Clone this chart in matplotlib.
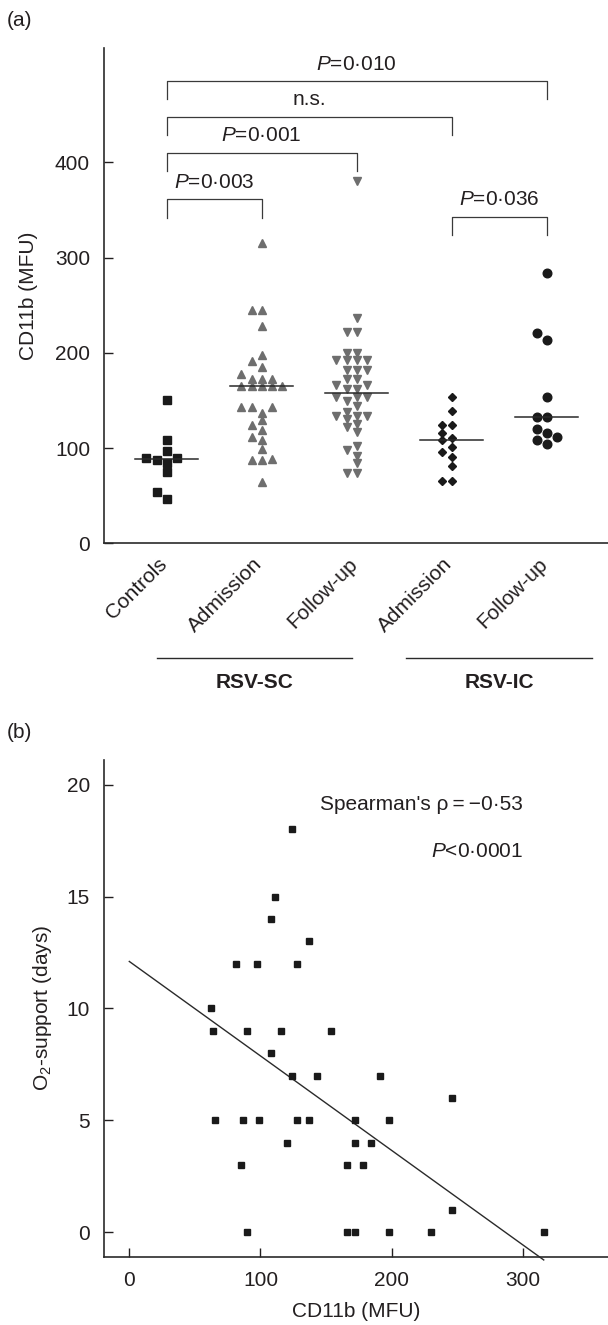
import numpy as np
import matplotlib
matplotlib.use("Agg")
import matplotlib.pyplot as plt
from matplotlib.transforms import ScaledTranslation

plt.rcParams['font.family'] = ['Liberation Sans', 'DejaVu Sans']
plt.rcParams['mathtext.fontset'] = 'custom'
plt.rcParams['mathtext.rm'] = 'Liberation Sans'
plt.rcParams['mathtext.it'] = 'Liberation Sans:italic'
plt.rcParams['mathtext.default'] = 'it'

# ---------------- data: panel (a) ----------------
group_labels = ['Controls', 'Admission', 'Follow-up', 'Admission', 'Follow-up']
controls = [150, 108, 97, 90, 90, 87, 84, 75, 54, 47]
sc_admission = [315, 245, 245, 228, 198, 191, 185, 178, 172, 172, 172,
                165, 165, 165, 165, 165, 143, 143, 143, 137, 129, 124,
                119, 112, 108, 99, 89, 87, 87, 64]
sc_followup = [380, 237, 222, 222, 200, 200, 192, 192, 192, 192, 182, 182,
               182, 173, 173, 166, 166, 162, 162, 154, 154, 154, 149, 144,
               138, 134, 134, 134, 130, 125, 122, 117, 102, 98, 92, 84, 74, 74]
ic_admission = [154, 139, 124, 124, 116, 111, 108, 101, 96, 91, 81, 65, 65]
ic_followup = [284, 221, 213, 154, 133, 133, 120, 116, 112, 108, 104]
supergroups = ['RSV-SC', 'RSV-IC']
# comparisons: (group i, group j, bracket level, label)
comparisons = [(0, 1, 361, '$P$=0·003'),
               (0, 2, 410, '$P$=0·001'),
               (0, 3, 448, 'n.s.'),
               (0, 4, 485, '$P$=0·010'),
               (3, 4, 343, '$P$=0·036')]

# ---------------- data: panel (b) ----------------
cd11b = [124, 111, 108, 137, 81, 97, 128, 62, 64, 90, 116, 154, 108, 124,
         143, 191, 246, 65, 87, 99, 128, 137, 172, 198, 120, 172, 184, 85,
         166, 178, 246, 90, 166, 172, 198, 230, 316]
o2_days = [18, 15, 14, 13, 12, 12, 12, 10, 9, 9, 9, 9, 8, 7,
           7, 7, 6, 5, 5, 5, 5, 5, 5, 5, 4, 4, 4, 3,
           3, 3, 1, 0, 0, 0, 0, 0, 0]
fit_intercept = 12.1
fit_slope = -0.0422
spearman_text = "Spearman's ρ\u2009=\u2009−0·53"
p_text = '$P$<0·0001'

# ---------------- figure ----------------
W, H = 608, 1325
FS = 15
fig = plt.figure(figsize=(W / 100, H / 100), dpi=100)
INK = '#231f20'


def rect(l, t, r, b):
    return [l / W, 1 - b / H, (r - l) / W, (b - t) / H]


def swarm(vals, step_px, diam_px, ppu_y):
    vals = np.asarray(vals, float)
    order = np.argsort(vals, kind='stable')
    placed = []
    offs = np.zeros(len(vals))
    for i in order:
        y = vals[i] * ppu_y
        for k in [0, -1, 1, -2, 2, -3, 3, -4, 4, -5, 5]:
            x = k * step_px
            if all((x - px) ** 2 + (y - py) ** 2 >= diam_px ** 2 for py, px in placed):
                break
        placed.append((y, x))
        offs[i] = x
    return offs


# ---- panel (a)
axA = fig.add_axes(rect(104, 48, 608, 543.3))
xlim_a = (-0.66, 4.645)
ylim_a = (0, 520)
axA.set_xlim(*xlim_a)
axA.set_ylim(*ylim_a)
ppu_x = (608 - 104) / (xlim_a[1] - xlim_a[0])
ppu_y = (543.3 - 48) / (ylim_a[1] - ylim_a[0])

groups = [controls, sc_admission, sc_followup, ic_admission, ic_followup]
styles = [dict(marker='s', ms=5.3, color='#1a1a1a', gap=7.3),
          dict(marker='^', ms=5.6, color='#6e6e6e', gap=6.3),
          dict(marker='v', ms=5.6, color='#6e6e6e', gap=6.3),
          dict(marker='D', ms=3.9, color='#1a1a1a', gap=7.0),
          dict(marker='o', ms=6.2, color='#1a1a1a', gap=8.3)]
for gi, (vals, st) in enumerate(zip(groups, styles)):
    offs = swarm(vals, 10.2, st['gap'], ppu_y) / ppu_x
    axA.plot(gi + offs, vals, linestyle='none', marker=st['marker'],
             ms=st['ms'], color=st['color'], mec=st['color'], zorder=3,
             clip_on=False)
    med = np.median(vals)
    axA.plot([gi - 0.33, gi + 0.33], [med, med], color='#2a2a2a', lw=1.1,
             zorder=4)

drop = 19
for i, j, lvl, lab in comparisons:
    axA.plot([i, i, j, j], [lvl - drop, lvl, lvl, lvl - drop], color='#3a3a3a',
             lw=0.9, clip_on=False, zorder=2)
    axA.annotate(lab, xy=((i + j) / 2, lvl), xytext=(0, 8.5),
                 textcoords='offset points', ha='center', va='baseline',
                 fontsize=FS, color=INK)

axA.spines['top'].set_visible(False)
axA.spines['right'].set_visible(False)
for s in ['left', 'bottom']:
    axA.spines[s].set_linewidth(1.2)
    axA.spines[s].set_color('#2a2a2a')
axA.set_yticks([0, 100, 200, 300, 400])
axA.set_xticks(range(len(group_labels)))
axA.set_xticklabels(group_labels, rotation=45, ha='right', va='top',
                    rotation_mode='anchor')
axA.tick_params(axis='y', direction='in', length=6.5, width=1.0, pad=10,
                labelsize=FS, colors=INK)
axA.tick_params(axis='x', length=0, pad=8, labelsize=FS, colors=INK)
shift = ScaledTranslation(-9 / 100, 0, fig.dpi_scale_trans)
for lab in axA.get_xticklabels():
    lab.set_transform(lab.get_transform() + shift)
axA.set_ylabel('CD11b (MFU)', fontsize=FS, color=INK, labelpad=12)

# group lines beneath the category labels
xt = axA.get_xaxis_transform()
line_y = (543.3 - 658) / (543.3 - 48)
text_y = (543.3 - 682) / (543.3 - 48)
for name, (x0, x1) in zip(supergroups, [(-0.10, 1.95), (2.52, 4.48)]):
    axA.plot([x0, x1], [line_y, line_y], transform=xt, color='#2a2a2a',
             lw=1.0, clip_on=False)
    axA.text((x0 + x1) / 2, text_y, name, transform=xt, ha='center',
             va='center', fontsize=FS, fontweight='bold', color=INK)

# ---- panel (b)
axB = fig.add_axes(rect(104, 760, 608, 1256.7))
axB.set_xlim(-19.3, 365)
axB.set_ylim(-1.09, 21.1)
axB.plot(cd11b, o2_days, linestyle='none', marker='s', ms=4.4,
         color='#1a1a1a', zorder=3)
xfit = np.array([0, max(cd11b)])
axB.plot(xfit, fit_intercept + fit_slope * xfit, color='#2a2a2a', lw=1.0,
         clip_on=False, zorder=2)
axB.text(300, 19.1, spearman_text, ha='right', va='center', fontsize=FS,
         color=INK)
axB.text(300, 17.0, p_text, ha='right', va='center', fontsize=FS, color=INK)

axB.spines['top'].set_visible(False)
axB.spines['right'].set_visible(False)
for s in ['left', 'bottom']:
    axB.spines[s].set_linewidth(1.2)
    axB.spines[s].set_color('#2a2a2a')
axB.set_xticks([0, 100, 200, 300])
axB.set_yticks([0, 5, 10, 15, 20])
axB.tick_params(axis='both', direction='in', length=6.5, width=1.0, pad=10,
                labelsize=FS, colors=INK)
axB.set_xlabel('CD11b (MFU)', fontsize=FS, color=INK, labelpad=9)
axB.set_ylabel('O$_2$-support (days)', fontsize=FS, color=INK, labelpad=9)

fig.text(19 / W, 1 - 20 / H, '(a)', ha='center', va='center', fontsize=FS,
         color=INK)
fig.text(19 / W, 1 - 732 / H, '(b)', ha='center', va='center', fontsize=FS,
         color=INK)

fig.savefig('out.png', dpi=100)
